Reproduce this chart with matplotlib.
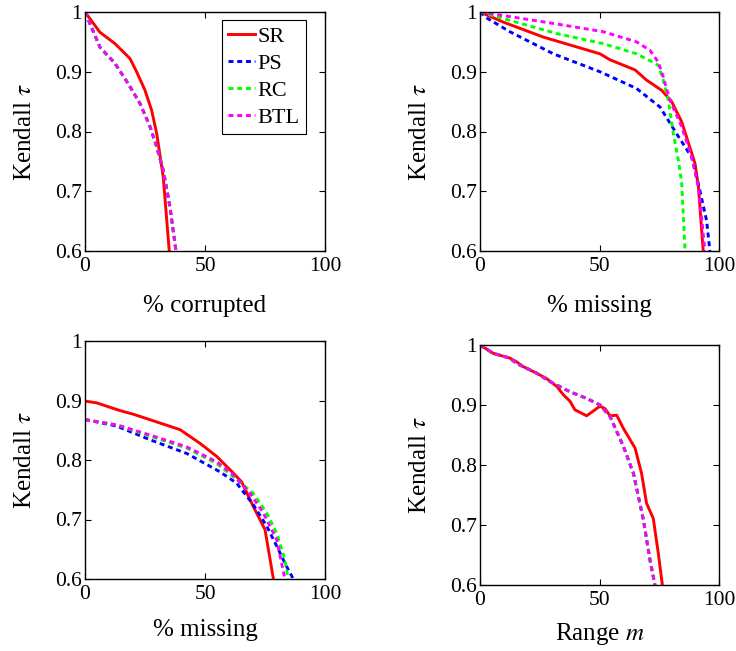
import matplotlib
matplotlib.use("Agg")
import matplotlib.pyplot as plt

plt.rcParams['font.family'] = ['Liberation Serif', 'DejaVu Serif']
plt.rcParams['mathtext.fontset'] = 'stix'

labels = ["SR", "PS", "RC", "BTL"]
colors = ["#ff0000", "#0000ff", "#00ff00", "#ff00ff"]
styles = ["-", "--", "--", "--"]

# Panel 1: % corrupted
c_sr_x = [0, 6.25, 12.5, 18.75, 21.5, 25, 27.8, 29.9, 32.6, 35.1]
c_sr_y = [1.0, 0.966, 0.947, 0.922, 0.9, 0.869, 0.835, 0.796, 0.724, 0.6]
c_ot_x = [0, 6.25, 12.5, 18, 22.9, 27.1, 29.9, 32.6, 35.4, 37.9]
c_ot_y = [1.0, 0.941, 0.914, 0.88, 0.847, 0.808, 0.774, 0.735, 0.674, 0.6]

# Panel 2: % missing
m1_sr_x = [0, 9.8, 26.5, 50.2, 54.4, 64.9, 69.7, 76, 80.2, 84.4, 90, 91.4, 93.4]
m1_sr_y = [1.0, 0.983, 0.958, 0.930, 0.920, 0.903, 0.886, 0.869, 0.850, 0.816, 0.746, 0.707, 0.6]
m1_ps_x = [0, 2.8, 12.5, 30.7, 50.2, 65.5, 75.3, 82.3, 88.6, 92, 94.8, 96.2]
m1_ps_y = [1.0, 0.99, 0.967, 0.930, 0.9, 0.872, 0.841, 0.796, 0.757, 0.701, 0.651, 0.6]
m1_rc_x = [0, 12.5, 32, 51.6, 65.5, 74.6, 76.7, 78.8, 80.9, 83, 84.4, 85.1, 85.8]
m1_rc_y = [1.0, 0.986, 0.964, 0.947, 0.930, 0.911, 0.886, 0.852, 0.796, 0.752, 0.713, 0.657, 0.6]
m1_btl_x = [0, 9.8, 32, 51.6, 65.5, 71.1, 74.6, 76.7, 79.5, 84.4, 88.6, 91.4, 92.7, 94.1]
m1_btl_y = [1.0, 0.994, 0.98, 0.967, 0.95, 0.936, 0.916, 0.891, 0.852, 0.808, 0.757, 0.707, 0.657, 0.6]

# Panel 3: % missing
m2_sr_x = [0, 4.9, 14.6, 20.1, 39.6, 47.9, 54.9, 61.8, 65.3, 70.1, 75, 78.5]
m2_sr_y = [0.899, 0.896, 0.883, 0.877, 0.851, 0.828, 0.806, 0.778, 0.763, 0.722, 0.683, 0.6]
m2_ps_x = [0, 13.2, 27.1, 42.4, 56.3, 63.2, 70.1, 75.7, 79.9, 84, 86.8]
m2_ps_y = [0.868, 0.857, 0.834, 0.811, 0.780, 0.761, 0.725, 0.689, 0.655, 0.621, 0.6]
m2_rc_x = [0, 13.2, 27.1, 42.4, 54.9, 61.8, 70.1, 75.7, 79.9, 83.3, 84.7]
m2_rc_y = [0.868, 0.859, 0.840, 0.820, 0.794, 0.772, 0.744, 0.711, 0.677, 0.632, 0.6]
m2_btl_x = [0, 13.2, 27.1, 42.4, 54.9, 61.8, 68.8, 74.3, 79.9, 83.3]
m2_btl_y = [0.868, 0.859, 0.842, 0.822, 0.797, 0.775, 0.744, 0.711, 0.666, 0.6]

# Panel 4: Range m
r_sr_x = [0, 5.6, 12.6, 15.3, 18.1, 23.7, 27.9, 32.1, 34.9, 37.7, 39.7, 44.6, 50.2, 52.3, 54.4, 57.2, 60, 64.9, 67.6, 69.7, 72.5, 74.6, 76.3]
r_sr_y = [1.0, 0.986, 0.978, 0.972, 0.964, 0.953, 0.944, 0.931, 0.917, 0.906, 0.892, 0.882, 0.898, 0.894, 0.882, 0.883, 0.861, 0.828, 0.786, 0.736, 0.711, 0.653, 0.6]
r_ot_x = [0, 5.6, 12.6, 15.3, 18.1, 23.7, 29.3, 37.7, 44.6, 50.2, 54.4, 60, 64.2, 68.4, 71.1, 73.2]
r_ot_y = [1.0, 0.986, 0.978, 0.969, 0.964, 0.953, 0.939, 0.922, 0.911, 0.9, 0.881, 0.831, 0.786, 0.708, 0.642, 0.6]

panels = [
    ("% corrupted", [(c_sr_x, c_sr_y), (c_ot_x, c_ot_y), (c_ot_x, c_ot_y), (c_ot_x, c_ot_y)]),
    ("% missing", [(m1_sr_x, m1_sr_y), (m1_ps_x, m1_ps_y), (m1_rc_x, m1_rc_y), (m1_btl_x, m1_btl_y)]),
    ("% missing", [(m2_sr_x, m2_sr_y), (m2_ps_x, m2_ps_y), (m2_rc_x, m2_rc_y), (m2_btl_x, m2_btl_y)]),
    (r"Range $m$", [(r_sr_x, r_sr_y), (r_ot_x, r_ot_y), (r_ot_x, r_ot_y), (r_ot_x, r_ot_y)]),
]

W, H = 736, 651
boxes = [(85, 12, 325, 251), (480, 12, 719, 251), (85, 341, 325, 579), (480, 345, 719, 585)]
xlabelpads = [14, 14, 11, 8]

fig = plt.figure(figsize=(W / 100, H / 100), dpi=100)
fs_tick = 15.5
fs_label = 18
fs_leg = 16
for i, ((xlab, series), (l, t, r, b)) in enumerate(zip(panels, boxes)):
    ax = fig.add_axes([l / W, 1 - b / H, (r - l) / W, (b - t) / H])
    for (xs, ys), lab, col, st in zip(series, labels, colors, styles):
        if st == "--":
            ax.plot(xs, ys, color=col, lw=2.1, label=lab, linestyle=(0, (1.7, 1.3)))
        else:
            ax.plot(xs, ys, color=col, lw=2.1, label=lab, linestyle="-")
    ax.set_xlim(0, 100)
    ax.set_ylim(0.6, 1.0)
    ax.set_xticks([0, 50, 100])
    ax.set_yticks([0.6, 0.7, 0.8, 0.9, 1.0])
    ax.set_yticklabels(["0.6", "0.7", "0.8", "0.9", "1"])
    ax.tick_params(direction="in", top=True, right=True, labelsize=fs_tick, length=4, width=0.8, pad=4)
    ax.tick_params(axis="y", pad=2)
    for sp in ax.spines.values():
        sp.set_linewidth(1.0)
    ax.set_xlabel(xlab, fontsize=fs_label, labelpad=xlabelpads[i])
    ax.set_ylabel(r"Kendall $\tau$", fontsize=fs_label, labelpad=14)
    if i == 0:
        ax_w, ax_h = r - l, b - t
        anchor = ((306 - l) / ax_w, 1 - (20 - t) / ax_h)
        leg = ax.legend(loc="upper right", bbox_to_anchor=anchor, fontsize=fs_leg, frameon=True,
                        fancybox=False, edgecolor="black", framealpha=1, handlelength=1.2,
                        handletextpad=0.1, borderpad=0.3, labelspacing=0.28, borderaxespad=0)
        leg.get_frame().set_linewidth(0.8)

fig.savefig("out.png", dpi=100)
